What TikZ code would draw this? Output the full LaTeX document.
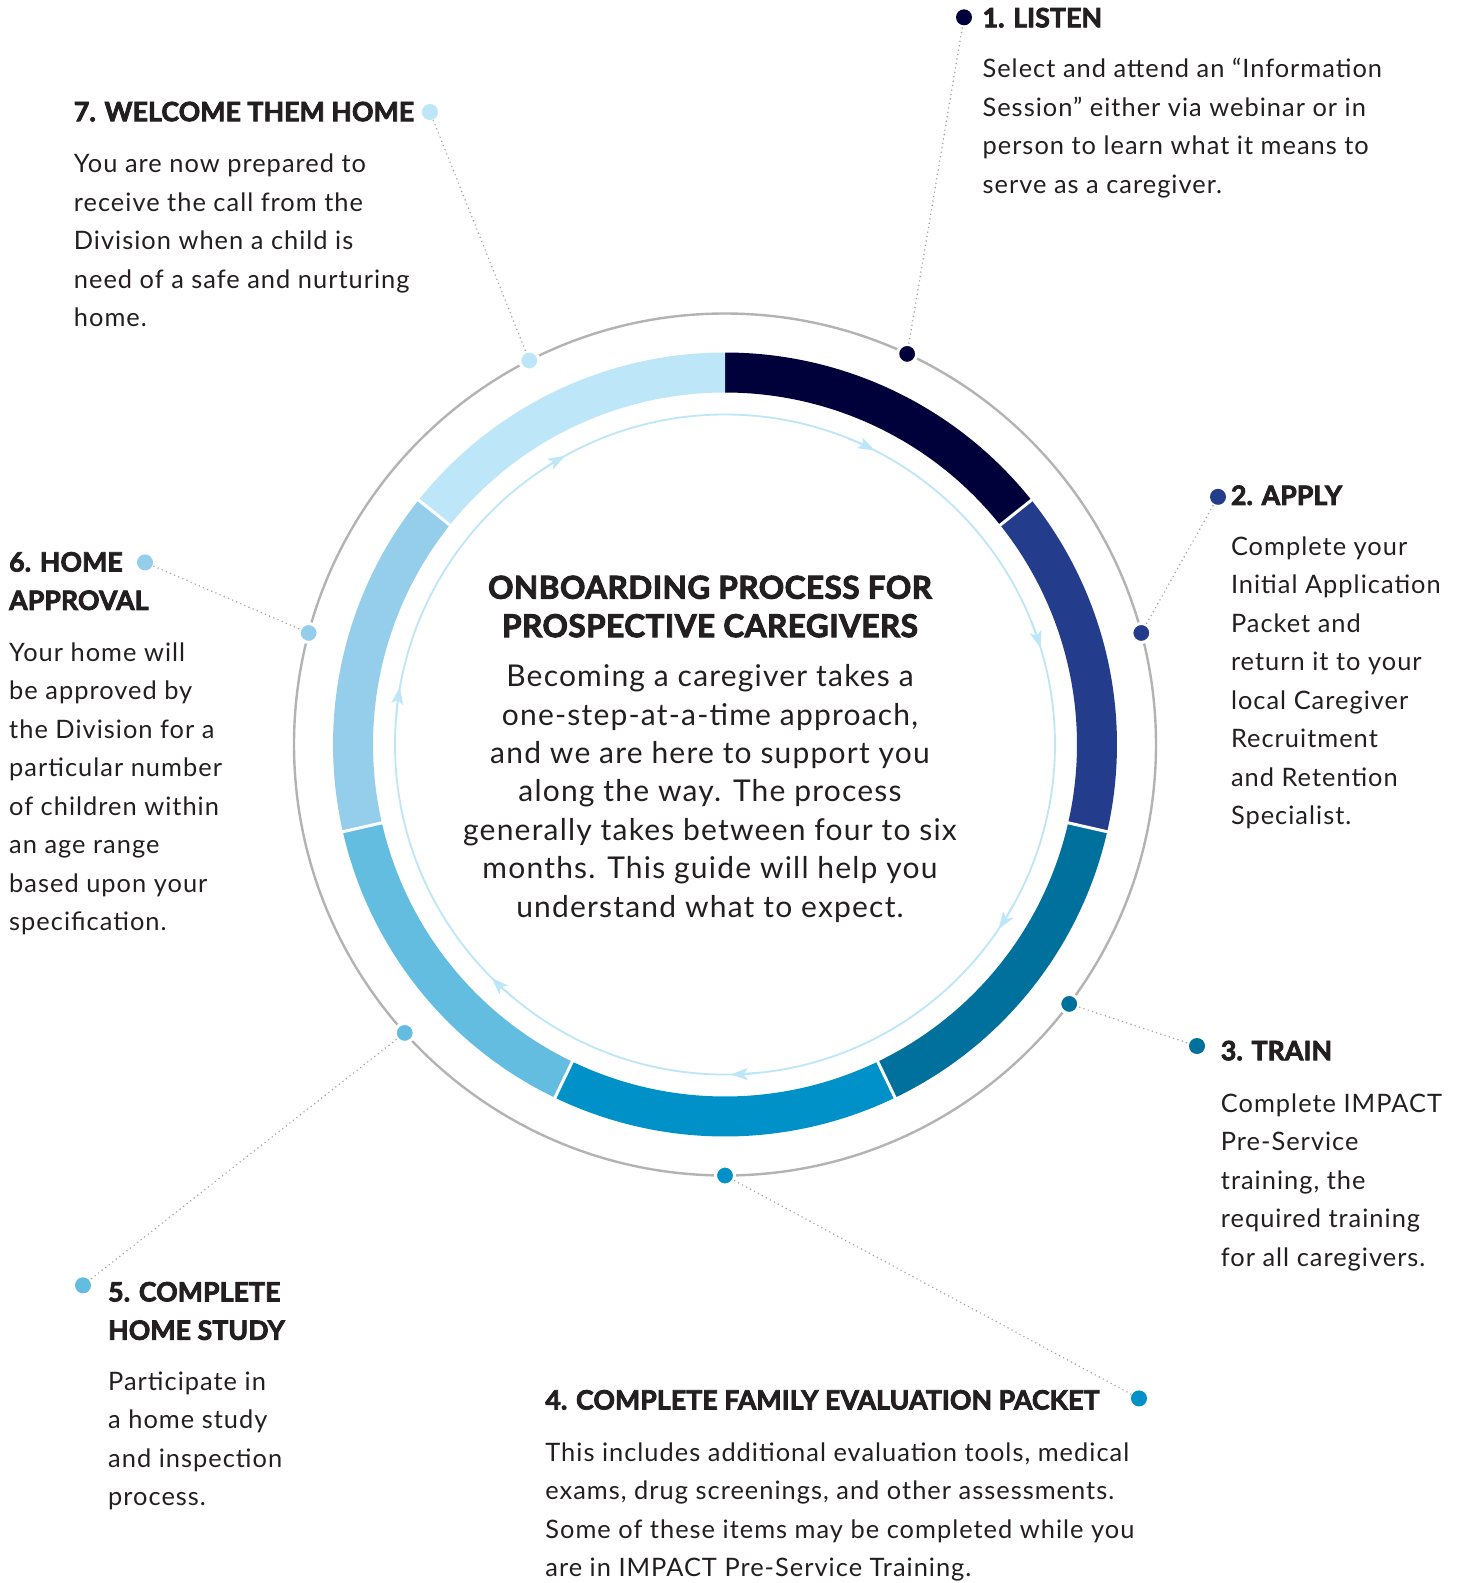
\documentclass[tikz,border=0pt]{standalone}
\usepackage{fontspec}
\setmainfont{Lato}[LetterSpace=4]
% heavy headings: bold face thickened a little
\newcommand\headfont{\bfseries\addfontfeatures{LetterSpace=0.5,FakeBold=3}}
\newcommand\titlefont{\bfseries\addfontfeatures{LetterSpace=1.5,FakeBold=3}}
\usetikzlibrary{arrows.meta}
\usepackage{xcolor}
\definecolor{cgnavy}{HTML}{00003A}
\definecolor{cgroyal}{HTML}{243C8C}
\definecolor{cgteal}{HTML}{00709C}
\definecolor{cgblue}{HTML}{0091C9}
\definecolor{cgsky}{HTML}{62BDE1}
\definecolor{cgpale}{HTML}{94CEEA}
\definecolor{cgice}{HTML}{BDE6F8}
\definecolor{cgring}{HTML}{B3B3B3}
\definecolor{cglead}{HTML}{A0A0A0}
\definecolor{cgink}{HTML}{231F20}

\begin{document}
\begin{tikzpicture}[
    x=1pt, y=1pt,
    % multi-line nodes sit on the baseline of their last line
    head/.style={anchor=base west, inner sep=0pt, align=left, text=cgink,
                 font=\headfont\fontsize{26.6}{38.4}\selectfont},
    body/.style={anchor=base west, inner sep=0pt, align=left, text=cgink,
                 font=\fontsize{25.4}{38.5}\selectfont},
    dot/.style={circle, fill=#1, inner sep=0pt, minimum size=16pt},
    ringdot/.style={dot=#1, draw=white, line width=3pt, minimum size=19pt},
    leader/.style={draw=cglead, line width=1.6pt, line cap=round,
                   dash pattern=on 0pt off 4.5pt},
    flow/.style={-{Stealth[length=17pt, width=12pt, inset=4pt]}, draw=cgice, line width=1.8pt}
  ]
    \path[use as bounding box, fill=white] (0,0) rectangle (1462,-1583);

    % ring of seven steps around the centre
    \begin{scope}[shift={(725,-744.5)}]
      \draw[cgring, line width=2.4pt] (0,0) circle[radius=431];
      \foreach \c [count=\i from 0] in {cgnavy,cgroyal,cgteal,cgblue,cgsky,cgpale,cgice} {
        \pgfmathsetmacro\sa{90-\i*360/7}
        \pgfmathsetmacro\ea{90-(\i+1)*360/7}
        \fill[\c] (\sa:392) arc[start angle=\sa, end angle=\ea, radius=392]
          -- (\ea:352) arc[start angle=\ea, end angle=\sa, radius=352] -- cycle;
      }
      \foreach \i in {1,...,6}
        \draw[white, line width=3pt] (90-\i*360/7:346) -- (90-\i*360/7:398);

      % inner flow circle, clockwise
      \draw[cgice, line width=1.8pt] (0,0) circle[radius=330];
      \foreach \a in {63,17,-34,-89,-135,170,119}
        \draw[flow] (\a+5:330) arc[start angle=\a+5, end angle=\a, radius=330];

      \node[ringdot=cgnavy]  (r1) at (65:431) {};
      \node[ringdot=cgroyal] (r2) at (15:431) {};
      \node[ringdot=cgteal]  (r3) at (-37:431) {};
      \node[ringdot=cgblue]  (r4) at (-90:431) {};
      \node[ringdot=cgsky]   (r5) at (-138:431) {};
      \node[ringdot=cgpale]  (r6) at (165:431) {};
      \node[ringdot=cgice]   (r7) at (117:431) {};
    \end{scope}

    % label dots
    \node[dot=cgnavy]  (l1) at (964,-17.3) {};
    \node[dot=cgroyal] (l2) at (1218,-496.8) {};
    \node[dot=cgteal]  (l3) at (1197,-1046) {};
    \node[dot=cgblue]  (l4) at (1139,-1398.4) {};
    \node[dot=cgsky]   (l5) at (83,-1285.3) {};
    \node[dot=cgpale]  (l6) at (145,-562.4) {};
    \node[dot=cgice]   (l7) at (430,-112) {};

    \foreach \i in {1,...,7}
      \draw[leader] (r\i) -- (l\i);

    % centre text
    \node[anchor=base, inner sep=0pt, align=center, text=cgink,
          font=\titlefont\fontsize{31.5}{38.4}\selectfont] (title) at (710,-637.1)
      {ONBOARDING PROCESS FOR\\PROSPECTIVE CAREGIVERS};
    \node[anchor=base, inner sep=0pt, align=center, text=cgink,
          font=\fontsize{30}{38.4}\selectfont] (intro) at (710,-917)
      {Becoming a caregiver takes a\\one-step-at-a-time approach,\\and we are here to support you\\
       along the way. The process\\generally takes between four to six\\months. This guide will help you\\
       understand what to expect.};

    % step texts
    \node[head] (h1) at (982.4,-27.3) {1. LISTEN};
    \node[body] (t1) at (982.4,-193.2)
      {Select and attend an “Information\\Session” either via webinar or in\\
       person to learn what it means to\\serve as a caregiver.};

    \node[head] (h2) at (1230.8,-504.9) {2. APPLY};
    \node[body] (t2) at (1230.8,-824.8)
      {Complete your\\Initial Application\\Packet and\\return it to your\\
       local Caregiver\\Recruitment\\and Retention\\Specialist.};

    \node[head] (h3) at (1220.7,-1060.2) {3. TRAIN};
    \node[body] (t3) at (1220.7,-1266)
      {Complete IMPACT\\Pre-Service\\training, the\\required training\\for all caregivers.};

    \node[head] (h4) at (545.2,-1409.5) {4. COMPLETE FAMILY EVALUATION PACKET};
    \node[body] (t4) at (545.2,-1576.5)
      {This includes additional evaluation tools, medical\\exams, drug screenings, and other assessments.\\
       Some of these items may be completed while you\\are in IMPACT Pre-Service Training.};

    \node[head] (h5) at (108,-1339.8) {5. COMPLETE\\HOME STUDY};
    \node[body] (t5) at (108,-1505.9)
      {Participate in\\a home study\\and inspection\\process.};

    \node[head] (h6) at (9,-609.9) {6. HOME\\APPROVAL};
    \node[body] (t6) at (9,-930.9)
      {Your home will\\be approved by\\the Division for a\\particular number\\
       of children within\\an age range\\based upon your\\specification.};

    \node[head] (h7) at (73.7,-121.2) {7. WELCOME THEM HOME};
    \node[body] (t7) at (73.7,-326.7)
      {You are now prepared to\\receive the call from the\\Division when a child is\\
       need of a safe and nurturing\\home.};
  \end{tikzpicture}
\end{document}
